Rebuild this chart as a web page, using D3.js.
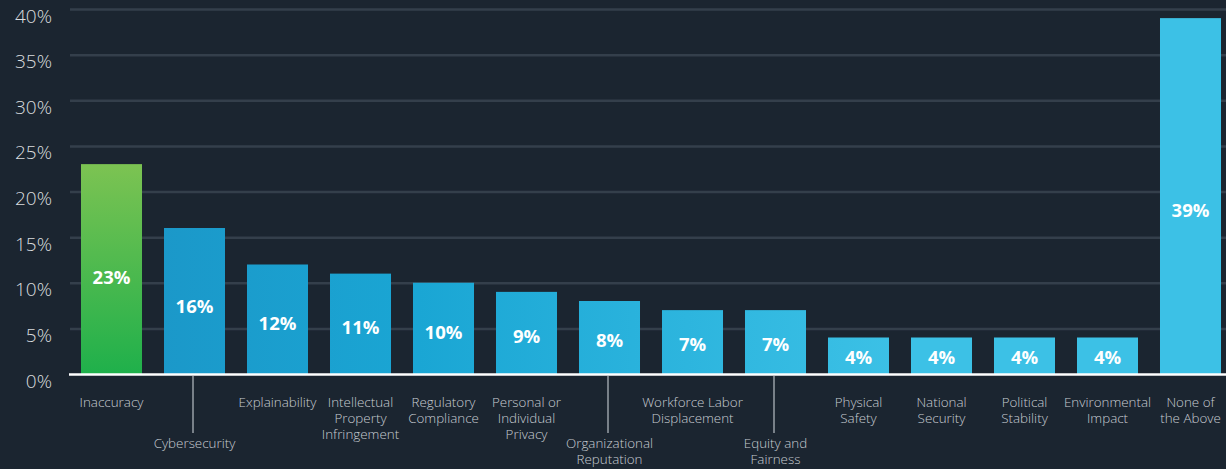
<!DOCTYPE html>
<html>
<head>
<meta charset="utf-8">
<script src="https://cdn.jsdelivr.net/npm/d3@7"></script>
<style>
  html, body { margin: 0; padding: 0; background: #1b2530; }
  svg { display: block; }
</style>
</head>
<body>
<svg id="chart" width="1226" height="469"></svg>
<script>
const categories = ["Inaccuracy","Cybersecurity","Explainability","Intellectual Property Infringement","Regulatory Compliance","Personal or Individual Privacy","Organizational Reputation","Workforce Labor Displacement","Equity and Fairness","Physical Safety","National Security","Political Stability","Environmental Impact","None of the Above"];
const labelLines = [["Inaccuracy"],["Cybersecurity"],["Explainability"],["Intellectual","Property","Infringement"],["Regulatory","Compliance"],["Personal or","Individual","Privacy"],["Organizational","Reputation"],["Workforce Labor","Displacement"],["Equity and","Fairness"],["Physical","Safety"],["National","Security"],["Political","Stability"],["Environmental","Impact"],["None of","the Above"]];
const values = [23,16,12,11,10,9,8,7,7,4,4,4,4,39];
const staggered = ["Cybersecurity","Organizational Reputation","Equity and Fairness"];
const yTicks = [0,5,10,15,20,25,30,35,40];

const W = 1226, H = 469;
const svg = d3.select("#chart");

const x = d3.scaleBand().domain(categories).range([70, 1232]).paddingInner(0.265).paddingOuter(0.1325);
const y = d3.scaleLinear().domain([0, 40]).range([374, 9]);

const defs = svg.append("defs");
const g1 = defs.append("linearGradient").attr("id","greenGrad").attr("x1",0).attr("y1",0).attr("x2",0).attr("y2",1);
g1.append("stop").attr("offset","0%").attr("stop-color","#7cc352");
g1.append("stop").attr("offset","100%").attr("stop-color","#1fb04b");
const g2 = defs.append("linearGradient").attr("id","blueGrad").attr("gradientUnits","userSpaceOnUse")
  .attr("x1",160).attr("y1",0).attr("x2",900).attr("y2",0);
g2.append("stop").attr("offset","0%").attr("stop-color","#1b98c9");
g2.append("stop").attr("offset","35%").attr("stop-color","#1aa6d4");
g2.append("stop").attr("offset","100%").attr("stop-color","#3cc1e6");

// gridlines
const grid = svg.append("g").attr("transform","translate(70,0)")
  .call(d3.axisRight(y).tickValues(yTicks.filter(d => d > 0)).tickSize(W - 70).tickFormat(""));
grid.select(".domain").remove();
grid.selectAll("line").attr("stroke","#343f4b").attr("stroke-width",2.5);

// y labels
const yAx = svg.append("g").attr("transform","translate(52,7)")
  .call(d3.axisLeft(y).tickValues(yTicks).tickSize(0).tickPadding(0).tickFormat(d => d + "%"));
yAx.select(".domain").remove();
yAx.selectAll("text").attr("fill","#d9dcdf").attr("font-family","'Open Sans', sans-serif")
  .attr("font-weight",300).attr("font-size",19).attr("text-anchor","end");

// bars
svg.append("g").selectAll("rect").data(values).join("rect")
  .attr("x",(d,i) => x(categories[i]))
  .attr("width", x.bandwidth())
  .attr("y", d => y(d))
  .attr("height", d => y(0) - y(d))
  .attr("fill", (d,i) => i === 0 ? "url(#greenGrad)" : "url(#blueGrad)");

// value labels
svg.append("g").selectAll("text").data(values).join("text")
  .attr("x",(d,i) => x(categories[i]) + x.bandwidth()/2)
  .attr("y", d => y(d*0.46))
  .attr("dy","0.35em")
  .attr("text-anchor","middle")
  .attr("fill","#ffffff")
  .attr("font-family","'Open Sans', sans-serif")
  .attr("font-weight",700)
  .attr("font-size",18.5)
  .text(d => d + "%");

// baseline
svg.append("line").attr("x1",69).attr("x2",W).attr("y1",y(0)+0.5).attr("y2",y(0)+0.5)
  .attr("stroke","#ffffff").attr("stroke-width",2.5);

// x labels
const xl = svg.append("g").selectAll("g").data(categories).join("g")
  .attr("transform", d => `translate(${x(d) + x.bandwidth()/2},0)`);
xl.filter(d => staggered.includes(d)).append("line")
  .attr("x1",-1.5).attr("x2",-1.5).attr("y1",y(0)+2).attr("y2",433)
  .attr("stroke","#b9bfc5").attr("stroke-width",1.2);
xl.append("text")
  .attr("text-anchor","middle")
  .attr("fill","#c6cbd0")
  .attr("font-family","'Open Sans', sans-serif")
  .attr("font-weight",300)
  .attr("font-size",13.4)
  .each(function(d,i){
    const t = d3.select(this);
    const base = staggered.includes(d) ? 448 : 407;
    labelLines[i].forEach((ln,k) => {
      t.append("tspan").attr("x",0).attr("y", base + k*16).text(ln);
    });
  });
</script>
</body>
</html>
